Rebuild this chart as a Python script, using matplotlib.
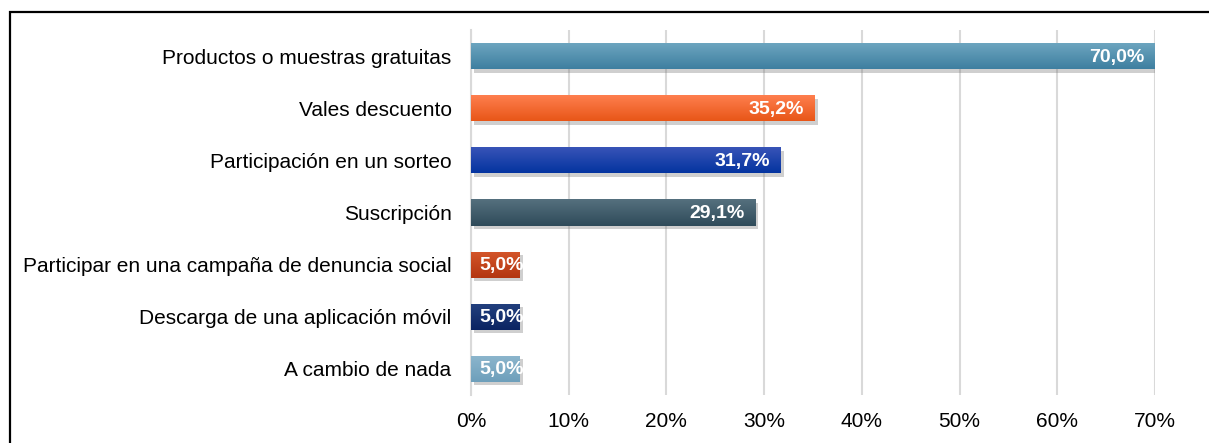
import matplotlib
matplotlib.use("Agg")
import matplotlib.pyplot as plt
import matplotlib.patheffects as pe
from matplotlib.patches import Rectangle
from matplotlib.colors import LinearSegmentedColormap
from matplotlib.ticker import FuncFormatter
import numpy as np

categories = [
    "Productos o muestras gratuitas",
    "Vales descuento",
    "Participación en un sorteo",
    "Suscripción",
    "Participar en una campaña de denuncia social",
    "Descarga de una aplicación móvil",
    "A cambio de nada",
]
values = [70.0, 35.2, 31.7, 29.1, 5.0, 5.0, 5.0]
top_colors = ["#6ea6c0", "#ff8050", "#3a55b8", "#55707e", "#d4552a", "#23407e", "#8cb6cd"]
bottom_colors = ["#3e7fa0", "#e85618", "#0434a0", "#2f4b5a", "#b33610", "#0b2462", "#6e9fbb"]
xticks = [0, 10, 20, 30, 40, 50, 60, 70]

plt.rcParams['font.family'] = ['Liberation Sans', 'DejaVu Sans']

W, H = 1209, 443
fig = plt.figure(figsize=(W / 100, H / 100), dpi=100)
ax = fig.add_axes([471 / W, 1 - 395 / H, (1155 - 471) / W, (395 - 30) / H])

y = np.arange(len(categories))
bars = ax.barh(y, values, height=0.5, color=bottom_colors, zorder=3,
               path_effects=[pe.SimplePatchShadow(offset=(2, -2.5), shadow_rgbFace='#777777', alpha=0.35),
                             pe.Normal()])

# gradient fill
for bar, ct, cb in zip(bars, top_colors, bottom_colors):
    x0, y0 = bar.get_x(), bar.get_y()
    w, h = bar.get_width(), bar.get_height()
    cmap = LinearSegmentedColormap.from_list("g", [ct, cb])
    grad = np.linspace(0, 1, 64).reshape(-1, 1)
    im = ax.imshow(grad, cmap=cmap, aspect='auto', extent=(x0, x0 + w, y0 + h, y0),
                   origin='upper', zorder=4, interpolation='bilinear')
    im.set_clip_path(bar)

ax.set_xlim(0, 70)
ax.set_ylim(len(categories) - 0.5, -0.5)

for yi, v in zip(y, values):
    label = f"{v:.1f}%".replace(".", ",")
    if v < 10:
        ax.annotate(label, (0, yi), xytext=(8, -1), textcoords='offset pixels',
                    ha='left', va='center', color='white', fontweight='bold',
                    fontsize=14, zorder=6)
    else:
        ax.annotate(label, (v, yi), xytext=(-11, -1), textcoords='offset pixels',
                    ha='right', va='center', color='white', fontweight='bold',
                    fontsize=14, zorder=6)

ax.set_yticks(y)
ax.set_yticklabels(categories, fontsize=15)
ax.set_xticks(xticks)
ax.xaxis.set_major_formatter(FuncFormatter(lambda v, p: f"{int(v)}%"))
ax.tick_params(axis='x', labelsize=15, length=0, pad=12)
ax.tick_params(axis='y', length=0, pad=14)

ax.grid(axis='x', color='#d9d9d9', linewidth=1.5, zorder=0)
ax.set_axisbelow(True)
for s in ['top', 'right', 'bottom']:
    ax.spines[s].set_visible(False)
ax.spines['left'].set_color('#d9d9d9')
ax.spines['left'].set_linewidth(1.5)

# outer frame
frame = Rectangle((10 / W, -0.2), 1.5, 1 - 12 / H + 0.2, transform=fig.transFigure,
                  fill=False, edgecolor='black', linewidth=1.6, clip_on=False)
fig.patches.append(frame)

fig.savefig("out.png", dpi=100)
